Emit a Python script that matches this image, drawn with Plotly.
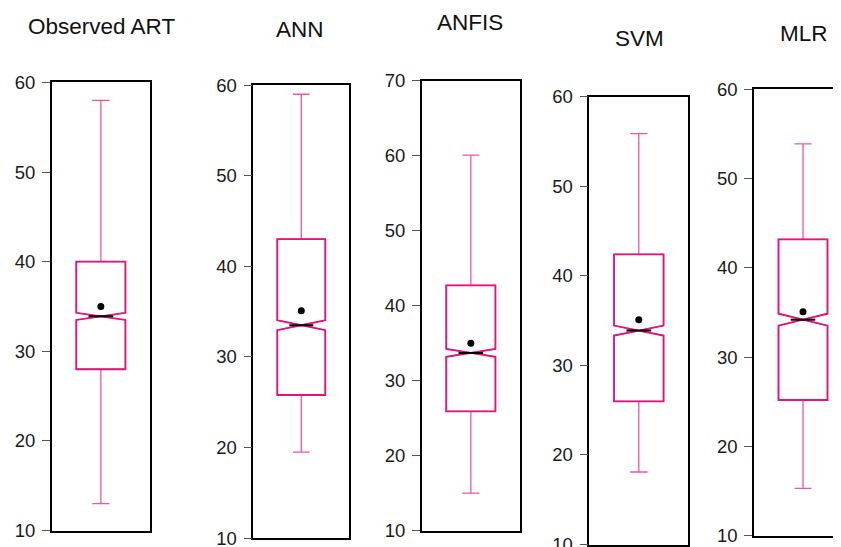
import plotly.graph_objects as go

# ---- data ----
models = ["Observed ART", "ANN", "ANFIS", "SVM", "MLR"]
q1 = [28.0, 25.8, 25.9, 26.0, 25.2]
medians = [33.9, 33.5, 33.7, 33.9, 34.2]
q3 = [40.0, 43.0, 42.7, 42.4, 43.2]
lower_whisker = [13.0, 19.5, 15.0, 18.1, 15.3]
upper_whisker = [58.0, 59.0, 60.1, 55.9, 53.9]
means = [35.0, 35.1, 35.0, 35.1, 35.1]
notch_half = [0.4, 0.55, 0.53, 0.56, 0.67]
y_max = [60, 60, 70, 60, 60]
y_min = [10, 10, 10, 10, 10]
tick_values = [list(range(10, m + 1, 10)) for m in y_max]

# ---- layout geometry (screen pixels on an 841x547 window) ----
SCREEN_W, SCREEN_H = 841, 547
OFF = 8  # default body margin of the html page
W, H = SCREEN_W - OFF, SCREEN_H
panel_x = [(51.7, 150.0), (253.3, 349.3), (421.7, 520.0), (589.3, 688.3), (754.0, 852.0)]
panel_y = [(82.3, 530.7), (85.0, 538.3), (80.7, 530.7), (96.7, 544.7), (89.3, 535.8)]
title_pos = [(101, 26), (300, 29), (470, 23), (639, 38), (804, 33)]

BOX_COLOR = "#E3137C"
WHISKER_COLOR = "#F0559F"
BOX_W = 0.5
FONT = "Liberation Sans, Arial, sans-serif"
EPS = 0.02

fig = go.Figure()
layout = dict(
    width=W, height=H,
    margin=dict(l=0, r=0, t=0, b=0, pad=0),
    paper_bgcolor="white", plot_bgcolor="white",
    boxmode="overlay", showlegend=False,
    font=dict(family=FONT, color="#1a1a1a"),
    annotations=[],
)

for i, name in enumerate(models):
    sfx = "" if i == 0 else str(i + 1)
    xa, ya = "x" + sfx, "y" + sfx
    # whiskers (lighter pink)
    fig.add_trace(go.Box(
        x=[0], q1=[q1[i]], median=[medians[i]], q3=[q3[i]],
        lowerfence=[lower_whisker[i]], upperfence=[upper_whisker[i]],
        notched=True, notchspan=[notch_half[i]], notchwidth=0.5,
        width=BOX_W, whiskerwidth=0.35,
        line=dict(color=WHISKER_COLOR, width=1.3), fillcolor="rgba(0,0,0,0)",
        xaxis=xa, yaxis=ya, hoverinfo="skip", boxpoints=False,
    ))
    # box outline (magenta)
    fig.add_trace(go.Box(
        x=[0], q1=[q1[i]], median=[medians[i]], q3=[q3[i]],
        lowerfence=[q1[i]], upperfence=[q3[i]],
        notched=True, notchspan=[notch_half[i]], notchwidth=0.5,
        width=BOX_W, whiskerwidth=0,
        line=dict(color=BOX_COLOR, width=1.8), fillcolor="rgba(255,255,255,0)",
        xaxis=xa, yaxis=ya, hoverinfo="skip", boxpoints=False,
    ))
    # median (black)
    half_inner = BOX_W / 2 * 0.5
    fig.add_trace(go.Scatter(
        x=[-half_inner, half_inner], y=[medians[i], medians[i]], mode="lines",
        line=dict(color="black", width=2), xaxis=xa, yaxis=ya, hoverinfo="skip",
    ))
    # mean (black dot)
    fig.add_trace(go.Scatter(
        x=[0], y=[means[i]], mode="markers",
        marker=dict(color="black", size=7), xaxis=xa, yaxis=ya, hoverinfo="skip",
    ))

    x0, x1 = panel_x[i][0] - OFF, panel_x[i][1] - OFF
    yt, yb = panel_y[i][0] - OFF, panel_y[i][1] - OFF
    px_per_unit = x1 - x0
    x_end = min(x1, W)
    xr = [-0.5, -0.5 + (x_end - x0) / px_per_unit]
    layout["xaxis" + sfx] = dict(
        domain=[x0 / W, x_end / W], range=xr, anchor=ya,
        showline=True, linecolor="black", linewidth=1.5, mirror=True,
        showticklabels=False, ticks="", showgrid=False, zeroline=False,
        fixedrange=True, automargin=False,
    )
    layout["yaxis" + sfx] = dict(
        domain=[1 - yb / H, 1 - yt / H], range=[y_min[i] - EPS, y_max[i] + EPS], anchor=xa,
        showline=True, linecolor="black", linewidth=1.5,
        mirror=(x1 <= W),
        tickvals=tick_values[i], ticks="outside", ticklen=8, tickwidth=1.2,
        tickcolor="#555555", tickfont=dict(size=18.5, color="#1a1a1a", family=FONT),
        ticklabelstandoff=3,
        showgrid=False, zeroline=False, fixedrange=True, automargin=False,
    )
    tx, ty = title_pos[i][0] - OFF, title_pos[i][1] - OFF
    layout["annotations"].append(dict(
        text=name, x=tx / W, y=1 - ty / H, xref="paper", yref="paper",
        xanchor="center", yanchor="middle", showarrow=False,
        font=dict(size=22.5, color="#111111", family=FONT),
    ))

fig.update_layout(**layout)
fig.write_html("out.html")
